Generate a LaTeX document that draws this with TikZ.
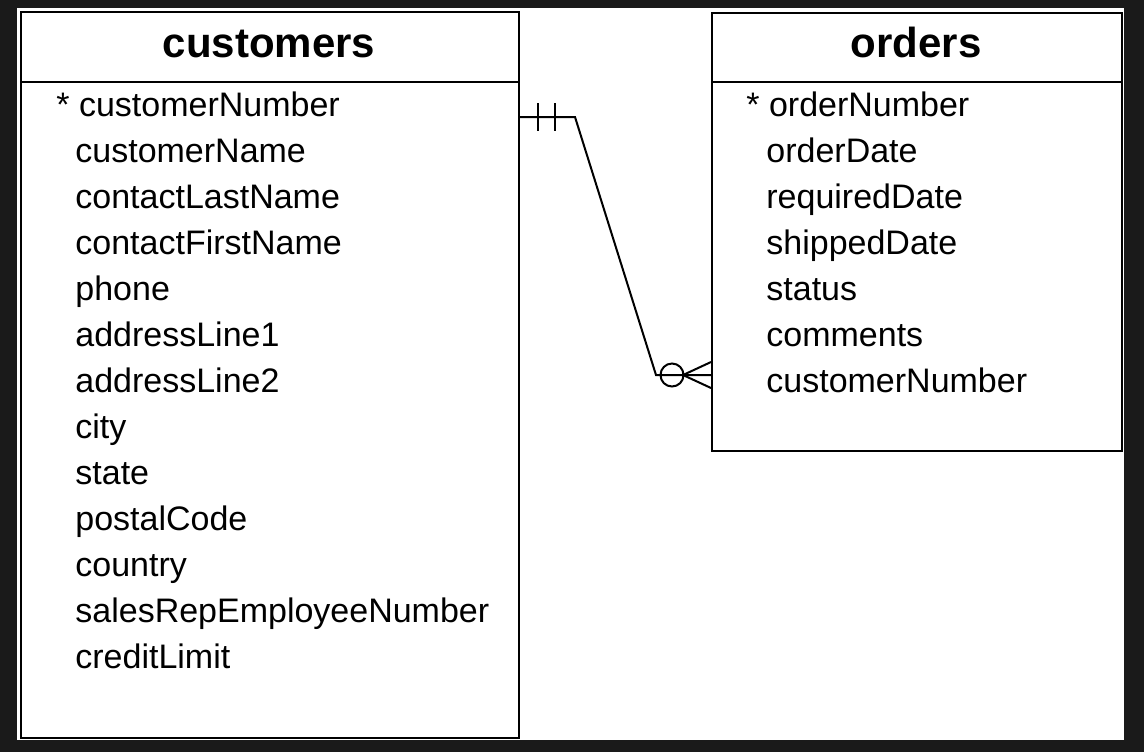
\documentclass[tikz,border=0pt]{standalone}
\usepackage{fontspec}
\setmainfont{Liberation Sans}
\definecolor{bgdark}{HTML}{1A1A1A}
\definecolor{shadowgray}{HTML}{A0A0A0}
\begin{document}
\begin{tikzpicture}[x=0.5pt,y=-0.5pt,
  tablebox/.style={draw=black,line width=1pt,fill=white,inner sep=0pt,anchor=north west},
  shadowbox/.style={fill=shadowgray,draw=none,inner sep=0pt,anchor=north west},
  headtext/.style={font=\fontsize{21}{24}\selectfont\bfseries,anchor=base,inner sep=0pt},
  rowtext/.style={font=\fontsize{17}{20}\selectfont,anchor=base west,inner sep=0pt},
  rel/.style={draw=black,line width=1pt}]
\useasboundingbox (0,0) rectangle (1144,752);
\fill[bgdark] (0,0) rectangle (1144,752);
\fill[white] (17,8) rectangle (1124,740);
% customers table
\node[shadowbox,minimum width=249pt,minimum height=363pt] (custshadow) at (22,13) {};
\node[tablebox,minimum width=249pt,minimum height=363pt] (cust) at (20,11) {};
\draw[line width=1pt] (cust.west |- 0,82) -- (cust.east |- 0,82);
\node[headtext] (custhead) at (269,57) {customers};
\node[rowtext] (c1) at (56,116) {* customerNumber};
\node[rowtext] (c2) at (75,162) {customerName};
\node[rowtext] (c3) at (75,208) {contactLastName};
\node[rowtext] (c4) at (75,254) {contactFirstName};
\node[rowtext] (c5) at (75,300) {phone};
\node[rowtext] (c6) at (75,346) {addressLine1};
\node[rowtext] (c7) at (75,392) {addressLine2};
\node[rowtext] (c8) at (75,438) {city};
\node[rowtext] (c9) at (75,484) {state};
\node[rowtext] (c10) at (75,530) {postalCode};
\node[rowtext] (c11) at (75,576) {country};
\node[rowtext] (c12) at (75,622) {salesRepEmployeeNumber};
\node[rowtext] (c13) at (75,668) {creditLimit};
% orders table
\node[shadowbox,minimum width=205pt,minimum height=219pt] (ordshadow) at (713,14) {};
\node[tablebox,minimum width=205pt,minimum height=219pt] (ord) at (711,12) {};
\draw[line width=1pt] (ord.west |- 0,82) -- (ord.east |- 0,82);
\node[headtext] (ordhead) at (916,57) {orders};
\node[rowtext] (o1) at (746,116) {* orderNumber};
\node[rowtext] (o2) at (766,162) {orderDate};
\node[rowtext] (o3) at (766,208) {requiredDate};
\node[rowtext] (o4) at (766,254) {shippedDate};
\node[rowtext] (o5) at (766,300) {status};
\node[rowtext] (o6) at (766,346) {comments};
\node[rowtext] (o7) at (766,392) {customerNumber};
% relationship
\coordinate (bend1) at (575,117);
\coordinate (bend2) at (656,375);
\draw[rel] (cust.east |- bend1) -- (bend1) -- (bend2) -- (ord.west |- bend2);
% mandatory one
\draw[rel] (538,103) -- (538,131);
\draw[rel] (555,103) -- (555,131);
% zero or many
\draw[rel] (672,375) circle[radius=11.5];
\draw[rel] (ord.west |- 0,362) -- (683,375) -- (ord.west |- 0,388);
\end{tikzpicture}
\end{document}
